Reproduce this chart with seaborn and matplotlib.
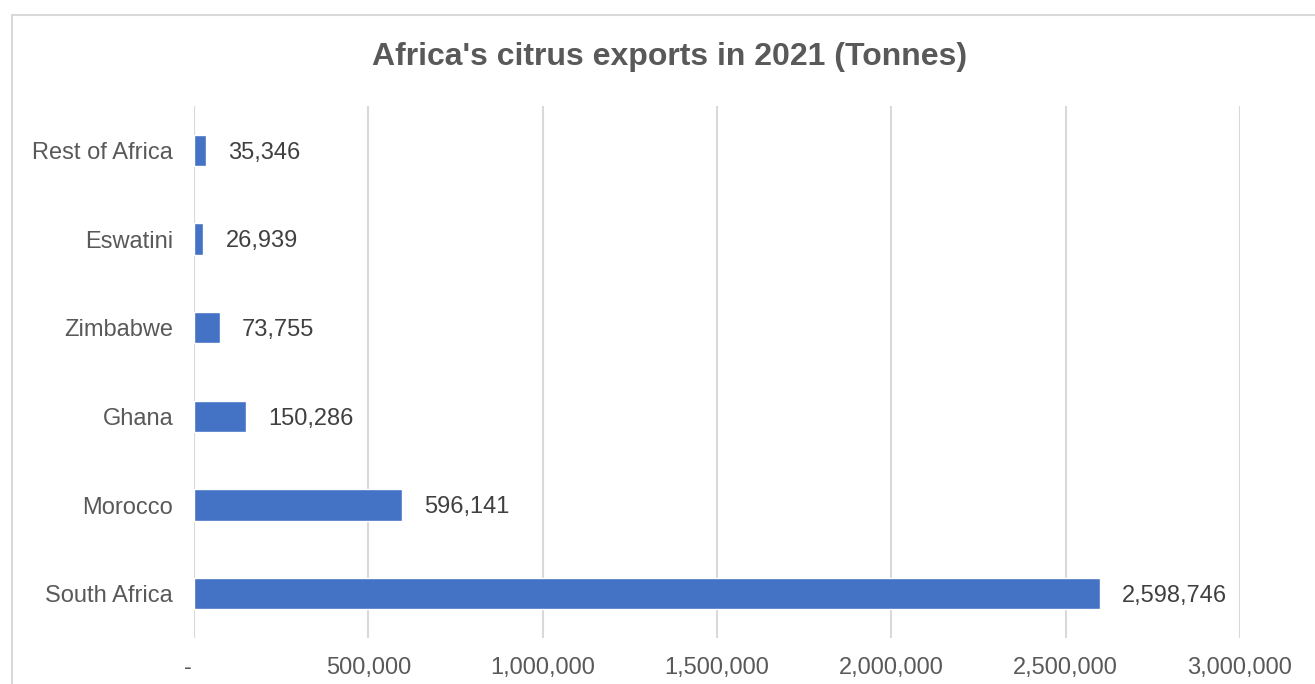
import matplotlib
matplotlib.use("Agg")
import matplotlib.pyplot as plt
import matplotlib.patches as patches
import matplotlib.ticker as mticker
import pandas as pd
import seaborn as sns

# Africa's citrus exports, 2021 (tonnes)
countries = ["Rest of Africa", "Eswatini", "Zimbabwe", "Ghana", "Morocco", "South Africa"]
exports = [35346, 26939, 73755, 150286, 596141, 2598746]
x_ticks = [0, 500000, 1000000, 1500000, 2000000, 2500000, 3000000]

df = pd.DataFrame({"country": countries, "tonnes": exports})

sns.set_theme(style="white")
plt.rcParams["font.family"] = ["Liberation Sans", "DejaVu Sans"]

W, H = 1315, 684
fig = plt.figure(figsize=(W / 100, H / 100), dpi=100)
ax = fig.add_axes([194 / W, 1 - 638 / H, (1240 - 194) / W, (638 - 106) / H])

sns.barplot(data=df, x="tonnes", y="country", order=countries, orient="h",
            color="#4472C4", saturation=1, width=0.35, ax=ax)

ax.set_xlim(0, 3000000)
ax.set_ylim(5.5, -0.5)
ax.set_xticks(x_ticks)
ax.xaxis.set_major_formatter(mticker.FuncFormatter(lambda v, p: "-  " if v == 0 else f"{v:,.0f}"))
ax.grid(axis="x", color="#D9D9D9", linewidth=1.5)
ax.set_axisbelow(True)
for s in ax.spines.values():
    s.set_visible(False)
ax.tick_params(axis="x", length=0, pad=14, labelsize=17, labelcolor="#595959")
ax.tick_params(axis="y", length=0, pad=15, labelsize=17, labelcolor="#595959")
ax.set_xlabel("")
ax.set_ylabel("")

# value labels
for bar, v in zip(ax.patches, exports):
    ax.annotate(f"{v:,}", (bar.get_width(), bar.get_y() + bar.get_height() / 2),
                xytext=(22, 0), textcoords="offset pixels",
                ha="left", va="center_baseline", fontsize=17, color="#404040")

fig.text(670 / W, 1 - 57 / H, "Africa's citrus exports in 2021 (Tonnes)",
         ha="center", va="center", fontsize=23, fontweight="bold", color="#595959")

# chart border
fig.patches.append(patches.Rectangle((12 / W, -0.1), 1.2, (H - 15) / H + 0.1,
                                     transform=fig.transFigure, fill=False,
                                     edgecolor="#D9D9D9", linewidth=1.5))

fig.savefig("out.png", dpi=100)
